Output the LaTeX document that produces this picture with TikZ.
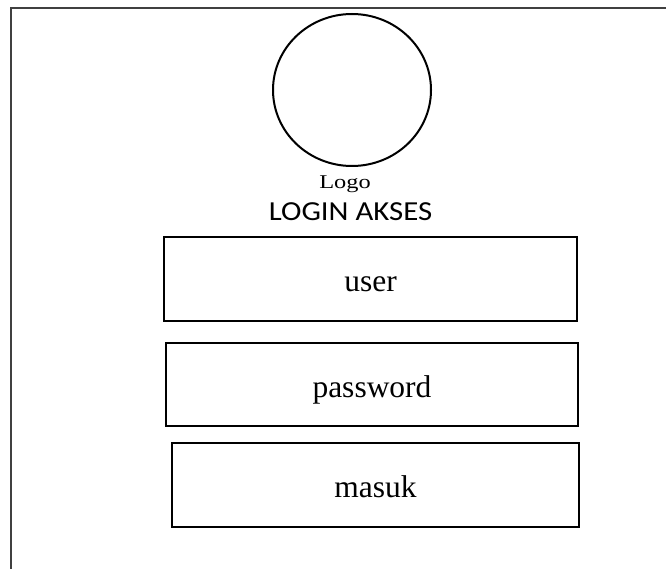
\documentclass[tikz,border=0pt]{standalone}
\usepackage{fontspec}
\setmainfont{Liberation Serif}
\newfontfamily\loginfont[FakeStretch=1.12]{Carlito}
\newfontfamily\logofont[FakeStretch=1.25]{Liberation Serif}
\usetikzlibrary{shapes.geometric}
\newcommand{\fieldtext}[1]{\raisebox{-12.5pt}[0pt][0pt]{#1}}
\begin{document}
\begin{tikzpicture}[x=1pt,y=-1pt,
  field/.style={draw=black,line width=2pt,rectangle,minimum height=84pt,
    font=\fontsize{31.5}{36}\selectfont},
  frameline/.style={draw=black!75,line width=1.5pt}]
\useasboundingbox (0,0) rectangle (666,569);
% window frame (top and left edges)
\draw[frameline] (11,569) -- (11,8) -- (666,8);
% logo placeholder
\node[draw=black,line width=2pt,ellipse,minimum width=158pt,minimum height=152pt,inner sep=0pt] (logo) at (352,90) {};
\node[font=\logofont\fontsize{19.5}{22}\selectfont] (logotext) at (345,184) {Logo};
\node[font=\loginfont\fontsize{27.5}{30}\selectfont] (title) at (350.5,212) {LOGIN AKSES};
% input fields and button
\node[field,minimum width=413pt] (user) at (370.5,279) {\fieldtext{user}};
\node[field,minimum width=412pt,minimum height=83pt] (password) at (372,384.5) {\fieldtext{password}};
\node[field,minimum width=407pt] (masuk) at (375.5,485) {\fieldtext{masuk}};
\end{tikzpicture}
\end{document}
